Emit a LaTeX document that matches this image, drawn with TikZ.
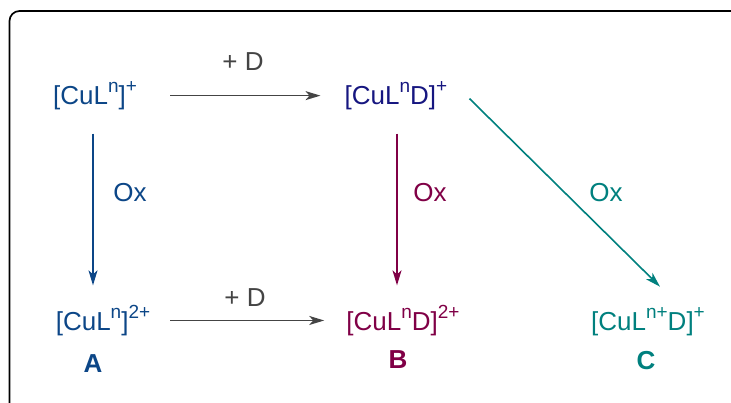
\documentclass[tikz,border=0pt]{standalone}
\usepackage{fontspec}
\setmainfont{Liberation Sans}
\usepackage{xcolor}
\usetikzlibrary{arrows.meta}

\definecolor{cublue}{RGB}{12,70,135}
\definecolor{cunavy}{RGB}{22,22,128}
\definecolor{cured}{RGB}{128,0,70}
\definecolor{cuteal}{RGB}{0,128,126}
\definecolor{cugray}{RGB}{68,68,68}

\newcommand{\sups}[1]{\raisebox{0.43em}{\fontsize{19}{19}\selectfont #1}}

\begin{document}
\begin{tikzpicture}[x=1pt,y=-1pt,
    species/.style={inner sep=0pt,anchor=base,font=\fontsize{26}{30}\selectfont},
    tag/.style={inner sep=0pt,anchor=base,font=\fontsize{26}{30}\selectfont\bfseries},
    plain/.style={inner sep=0pt,anchor=base,font=\fontsize{26}{30}\selectfont},
    conn/.style={line width=1.6pt,-{Stealth[length=15pt,width=9pt,inset=4pt]}}]
    \useasboundingbox (0,0) rectangle (731,402);
    \clip (0,0) rectangle (731,402);
    \draw[line width=1.7pt,rounded corners=10pt] (9.5,11) rectangle (760,440);

    \node[species,text=cublue] (cul) at (95,104) {[CuL\sups{n}]\sups{+}};
    \node[species,text=cunavy] (culd) at (396,104) {[CuL\sups{n}D]\sups{+}};
    \node[species,text=cublue] (culox) at (103,330) {[CuL\sups{n}]\sups{2+}};
    \node[species,text=cured] (culdox) at (403,330) {[CuL\sups{n}D]\sups{2+}};
    \node[species,text=cuteal] (culnd) at (648,330) {[CuL\sups{n+}D]\sups{+}};

    \node[tag,text=cublue] (tagA) at (93,372) {A};
    \node[tag,text=cured] (tagB) at (398,368) {B};
    \node[tag,text=cuteal] (tagC) at (646,369) {C};

    \draw[conn,cugray,shorten <=33pt,shorten >=24pt] (cul.east) -- (culd.west |- cul.east);
    \draw[conn,cugray,shorten <=20pt,shorten >=22pt] (culox.east) -- (culdox.west |- culox.east);
    \draw[conn,cublue,shorten <=24pt,shorten >=20pt] ([xshift=-2pt]cul.south) -- ([xshift=-2pt]cul.south |- culox.north);
    \draw[conn,cured,shorten <=24pt,shorten >=20pt] ([xshift=1pt]culd.south) -- ([xshift=1pt]culd.south |- culdox.north);
    \draw[conn,cuteal] ([shift={(22,3)}]culd.east) -- ([shift={(12,-21)}]culnd.north);

    \node[plain,text=cugray] (plusD1) at (243,70) {+ D};
    \node[plain,text=cugray] (plusD2) at (245,306) {+ D};
    \node[plain,text=cublue] (ox1) at (130,201) {Ox};
    \node[plain,text=cured] (ox2) at (430,201) {Ox};
    \node[plain,text=cuteal] (ox3) at (606,201) {Ox};
\end{tikzpicture}
\end{document}
